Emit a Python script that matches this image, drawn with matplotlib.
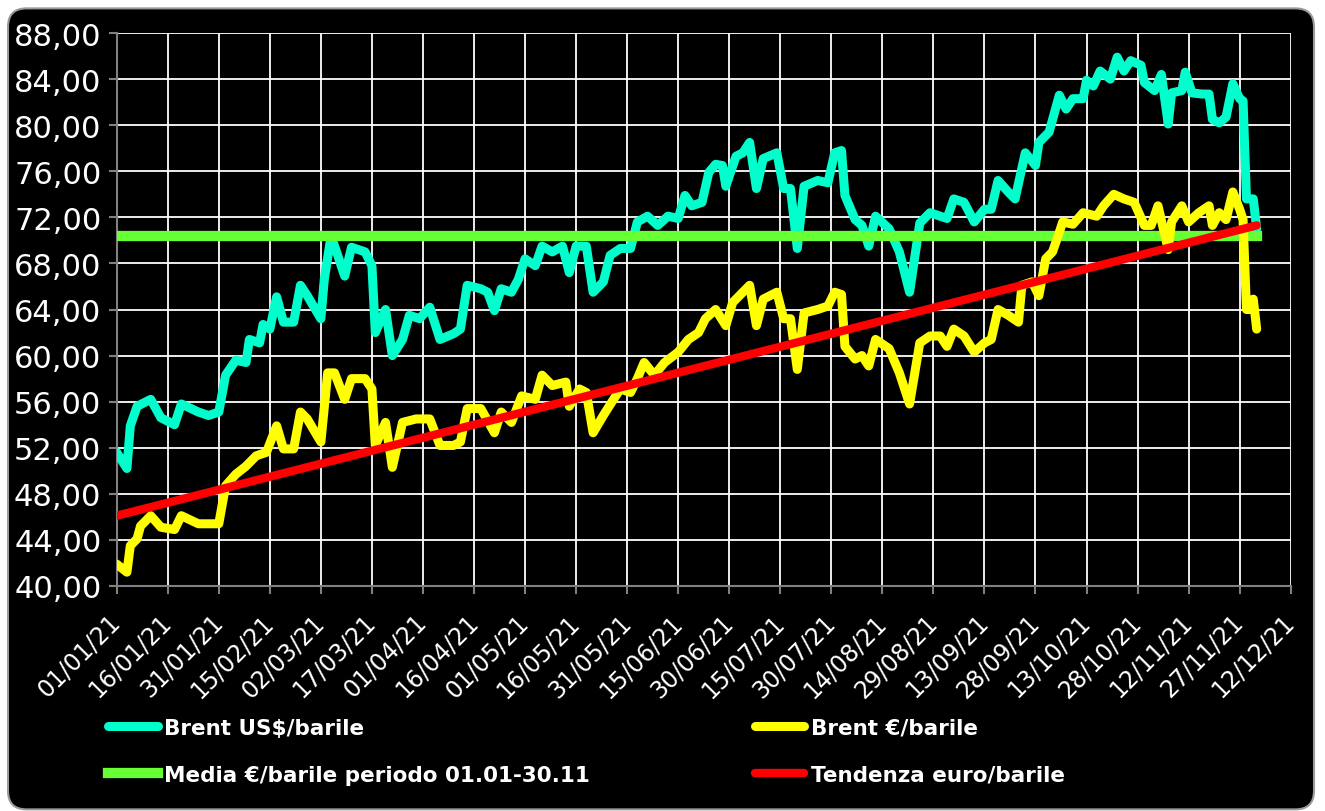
import numpy as np
import pandas as pd
import matplotlib
matplotlib.use("Agg")
import matplotlib.pyplot as plt
import matplotlib.dates as mdates
from matplotlib.ticker import FuncFormatter, MultipleLocator
from matplotlib.patches import FancyBboxPatch

# Brent in US$/barile
usd_dates = ["2021-01-01", "2021-01-04", "2021-01-05", "2021-01-07", "2021-01-11", "2021-01-14",
             "2021-01-18", "2021-01-20", "2021-01-25", "2021-01-28", "2021-01-31", "2021-02-02",
             "2021-02-05", "2021-02-08", "2021-02-09", "2021-02-12", "2021-02-13", "2021-02-15",
             "2021-02-17", "2021-02-19", "2021-02-22", "2021-02-24", "2021-02-26", "2021-03-02",
             "2021-03-03", "2021-03-05", "2021-03-09", "2021-03-11", "2021-03-15", "2021-03-17",
             "2021-03-18", "2021-03-21", "2021-03-23", "2021-03-26", "2021-03-28", "2021-03-31",
             "2021-04-03", "2021-04-06", "2021-04-10", "2021-04-12", "2021-04-14", "2021-04-18",
             "2021-04-20", "2021-04-22", "2021-04-24", "2021-04-27", "2021-04-29", "2021-05-01",
             "2021-05-04", "2021-05-06", "2021-05-09", "2021-05-12", "2021-05-14", "2021-05-16",
             "2021-05-19", "2021-05-21", "2021-05-24", "2021-05-26", "2021-05-29", "2021-06-01",
             "2021-06-03", "2021-06-06", "2021-06-09", "2021-06-12", "2021-06-15", "2021-06-17",
             "2021-06-19", "2021-06-22", "2021-06-24", "2021-06-26", "2021-06-28", "2021-06-29",
             "2021-07-02", "2021-07-04", "2021-07-06", "2021-07-08", "2021-07-10", "2021-07-14",
             "2021-07-16", "2021-07-18", "2021-07-20", "2021-07-22", "2021-07-26", "2021-07-29",
             "2021-07-31", "2021-08-02", "2021-08-03", "2021-08-06", "2021-08-08", "2021-08-10",
             "2021-08-12", "2021-08-16", "2021-08-19", "2021-08-22", "2021-08-25", "2021-08-28",
             "2021-09-02", "2021-09-04", "2021-09-07", "2021-09-10", "2021-09-13", "2021-09-15",
             "2021-09-17", "2021-09-20", "2021-09-22", "2021-09-25", "2021-09-28", "2021-09-29",
             "2021-10-02", "2021-10-05", "2021-10-07", "2021-10-09", "2021-10-12", "2021-10-13",
             "2021-10-15", "2021-10-17", "2021-10-20", "2021-10-22", "2021-10-24", "2021-10-26",
             "2021-10-29", "2021-10-30", "2021-11-02", "2021-11-04", "2021-11-06", "2021-11-07",
             "2021-11-10", "2021-11-11", "2021-11-13", "2021-11-16", "2021-11-18", "2021-11-19",
             "2021-11-21", "2021-11-23", "2021-11-25", "2021-11-27", "2021-11-28", "2021-11-29",
             "2021-12-01", "2021-12-02"]
usd_values = [51.6, 50.2, 53.9, 55.6, 56.2, 54.6,
              54.0, 55.8, 55.1, 54.8, 55.1, 58.3,
              59.6, 59.4, 61.4, 61.1, 62.7, 62.3,
              65.1, 62.9, 62.9, 66.1, 65.2, 63.2,
              66.6, 70.4, 66.9, 69.4, 69.0, 67.8,
              62.0, 64.0, 60.0, 61.4, 63.5, 63.2,
              64.2, 61.4, 61.9, 62.3, 66.1, 65.8,
              65.5, 63.9, 65.8, 65.5, 66.6, 68.4,
              67.8, 69.5, 69.0, 69.5, 67.2, 69.5,
              69.5, 65.5, 66.4, 68.7, 69.3, 69.3,
              71.6, 72.1, 71.3, 72.1, 71.9, 73.9,
              73.0, 73.3, 75.9, 76.6, 76.5, 74.7,
              77.3, 77.6, 78.5, 74.5, 77.1, 77.6,
              74.5, 74.5, 69.3, 74.7, 75.2, 75.0,
              77.6, 77.8, 73.9, 71.8, 71.3, 69.5,
              72.1, 71.0, 69.0, 65.5, 71.5, 72.4,
              71.9, 73.6, 73.3, 71.6, 72.7, 72.7,
              75.2, 74.2, 73.6, 77.6, 76.5, 78.5,
              79.4, 82.6, 81.4, 82.3, 82.3, 83.9,
              83.4, 84.7, 84.0, 85.9, 84.7, 85.6,
              85.2, 83.7, 83.0, 84.4, 80.1, 82.8,
              83.0, 84.6, 82.8, 82.7, 82.7, 80.5,
              80.2, 80.7, 83.6, 82.3, 82.1, 73.6,
              73.6, 71.0]

# Brent in €/barile
eur_dates = ["2021-01-01", "2021-01-04", "2021-01-05", "2021-01-07", "2021-01-08", "2021-01-11",
             "2021-01-14", "2021-01-18", "2021-01-20", "2021-01-25", "2021-01-31", "2021-02-02",
             "2021-02-05", "2021-02-08", "2021-02-11", "2021-02-14", "2021-02-17", "2021-02-19",
             "2021-02-22", "2021-02-24", "2021-02-26", "2021-03-02", "2021-03-04", "2021-03-06",
             "2021-03-09", "2021-03-11", "2021-03-15", "2021-03-17", "2021-03-18", "2021-03-21",
             "2021-03-23", "2021-03-26", "2021-03-30", "2021-04-03", "2021-04-06", "2021-04-10",
             "2021-04-12", "2021-04-14", "2021-04-18", "2021-04-22", "2021-04-24", "2021-04-27",
             "2021-04-30", "2021-05-04", "2021-05-06", "2021-05-09", "2021-05-13", "2021-05-14",
             "2021-05-17", "2021-05-19", "2021-05-21", "2021-05-24", "2021-05-27", "2021-05-29",
             "2021-06-01", "2021-06-03", "2021-06-05", "2021-06-08", "2021-06-11", "2021-06-15",
             "2021-06-18", "2021-06-21", "2021-06-23", "2021-06-26", "2021-06-29", "2021-07-01",
             "2021-07-04", "2021-07-06", "2021-07-08", "2021-07-10", "2021-07-14", "2021-07-16",
             "2021-07-18", "2021-07-20", "2021-07-22", "2021-07-26", "2021-07-29", "2021-07-31",
             "2021-08-02", "2021-08-03", "2021-08-06", "2021-08-08", "2021-08-10", "2021-08-12",
             "2021-08-16", "2021-08-19", "2021-08-22", "2021-08-25", "2021-08-28", "2021-08-31",
             "2021-09-02", "2021-09-04", "2021-09-07", "2021-09-10", "2021-09-13", "2021-09-15",
             "2021-09-17", "2021-09-20", "2021-09-23", "2021-09-24", "2021-09-27", "2021-09-29",
             "2021-10-01", "2021-10-03", "2021-10-05", "2021-10-06", "2021-10-09", "2021-10-12",
             "2021-10-16", "2021-10-18", "2021-10-21", "2021-10-24", "2021-10-27", "2021-10-30",
             "2021-11-01", "2021-11-03", "2021-11-06", "2021-11-07", "2021-11-10", "2021-11-12",
             "2021-11-15", "2021-11-18", "2021-11-19", "2021-11-21", "2021-11-23", "2021-11-25",
             "2021-11-27", "2021-11-28", "2021-11-29", "2021-11-30", "2021-12-01", "2021-12-02"]
eur_values = [41.9, 41.2, 43.5, 44.1, 45.2, 46.1,
              45.1, 44.9, 46.1, 45.4, 45.4, 48.7,
              49.7, 50.4, 51.3, 51.6, 53.9, 51.9,
              51.9, 55.1, 54.5, 52.5, 58.5, 58.5,
              56.2, 58.0, 58.0, 57.1, 52.2, 54.2,
              50.3, 54.2, 54.5, 54.5, 52.2, 52.2,
              52.5, 55.4, 55.4, 53.3, 55.1, 54.2,
              56.5, 56.2, 58.3, 57.4, 57.7, 55.6,
              57.1, 56.8, 53.3, 54.8, 56.2, 57.1,
              56.8, 58.0, 59.4, 58.3, 59.4, 60.3,
              61.4, 62.0, 63.2, 64.0, 62.6, 64.6,
              65.5, 66.1, 62.6, 64.9, 65.5, 63.2,
              63.2, 58.8, 63.7, 64.0, 64.3, 65.5,
              65.3, 60.8, 59.7, 60.0, 59.1, 61.4,
              60.6, 58.5, 55.8, 61.1, 61.7, 61.7,
              60.8, 62.3, 61.7, 60.3, 61.1, 61.4,
              64.0, 63.5, 62.9, 66.1, 66.4, 65.2,
              68.4, 69.0, 70.7, 71.6, 71.4, 72.4,
              72.1, 73.0, 74.0, 73.6, 73.3, 71.3,
              71.3, 73.0, 69.2, 71.6, 73.0, 71.6,
              72.4, 73.0, 71.3, 72.4, 71.8, 74.2,
              72.7, 71.8, 64.0, 64.0, 64.9, 62.3]

# media e tendenza euro/barile
media_dates = ["2021-01-01", "2021-12-02"]
media_values = [70.35, 70.35]
trend_dates = ["2021-01-01", "2021-12-02"]
trend_values = [46.1, 71.3]

labels = ["Brent US$/barile", "Brent €/barile",
          "Media €/barile periodo 01.01-30.11", "Tendenza euro/barile"]

W, H = 1325, 812
fig = plt.figure(figsize=(W / 100, H / 100), dpi=100, facecolor="white")

# black rounded panel behind everything
panel = FancyBboxPatch((8 / W, 0.002), 1306 / W, 801 / H,
                       boxstyle="round,pad=0,rounding_size=0.014",
                       mutation_aspect=W / H,
                       transform=fig.transFigure, facecolor="black",
                       edgecolor="#9a9a9a", linewidth=1.5, zorder=-10)
fig.patches.append(panel)

ax = fig.add_axes([116.7 / W, 1 - 587 / H, (1290.7 - 116.7) / W, (587 - 34) / H])
ax.set_facecolor("black")

x_usd = pd.to_datetime(usd_dates)
x_eur = pd.to_datetime(eur_dates)

l1, = ax.plot(x_usd, usd_values, color="#00ffcc", lw=6.5, zorder=3,
              solid_joinstyle="round", solid_capstyle="round")
l3, = ax.plot(pd.to_datetime(media_dates), media_values, color="#66ff33", lw=7.4, zorder=4)
l2, = ax.plot(x_eur, eur_values, color="#ffff00", lw=6.5, zorder=5,
              solid_joinstyle="round", solid_capstyle="round")
l4, = ax.plot(pd.to_datetime(trend_dates), trend_values, color="#ff0000", lw=6, zorder=6,
              solid_capstyle="round")

ax.set_ylim(40, 88)
ax.set_xlim(pd.Timestamp("2021-01-01"), pd.Timestamp("2021-12-12"))
ax.yaxis.set_major_locator(MultipleLocator(4))
ax.yaxis.set_major_formatter(FuncFormatter(lambda v, p: f"{v:.2f}".replace(".", ",")))

xticks = pd.date_range("2021-01-01", "2021-12-12", freq="15D")
ax.set_xticks(xticks)
ax.xaxis.set_major_formatter(mdates.DateFormatter("%d/%m/%y"))

ax.grid(True, color="white", lw=1.3, zorder=1)
for s in ["top", "right"]:
    ax.spines[s].set_visible(False)
for s in ["left", "bottom"]:
    ax.spines[s].set_color("#808080")
    ax.spines[s].set_linewidth(1.5)

ax.tick_params(axis="y", colors="#808080", labelcolor="white", labelsize=22,
               length=6, width=1.5, pad=5)
ax.tick_params(axis="x", colors="#808080", labelcolor="white", labelsize=17,
               length=6, width=1.5, pad=17)
for lab in ax.get_xticklabels():
    lab.set_rotation(45)
    lab.set_ha("right")
    lab.set_va("center")
    lab.set_rotation_mode("anchor")

leg = fig.legend([l1, l3, l2, l4], [labels[0], labels[2], labels[1], labels[3]],
                 ncol=2, loc="upper left", bbox_to_anchor=(108 / W, 1 - 719 / H),
                 frameon=False, prop={"weight": "bold", "size": 15.5},
                 handlelength=2.3, handletextpad=0.3, columnspacing=7.65,
                 labelspacing=1.25, borderpad=0, borderaxespad=0)
for t in leg.get_texts():
    t.set_color("white")

fig.savefig("out.png", dpi=100, facecolor="white")
